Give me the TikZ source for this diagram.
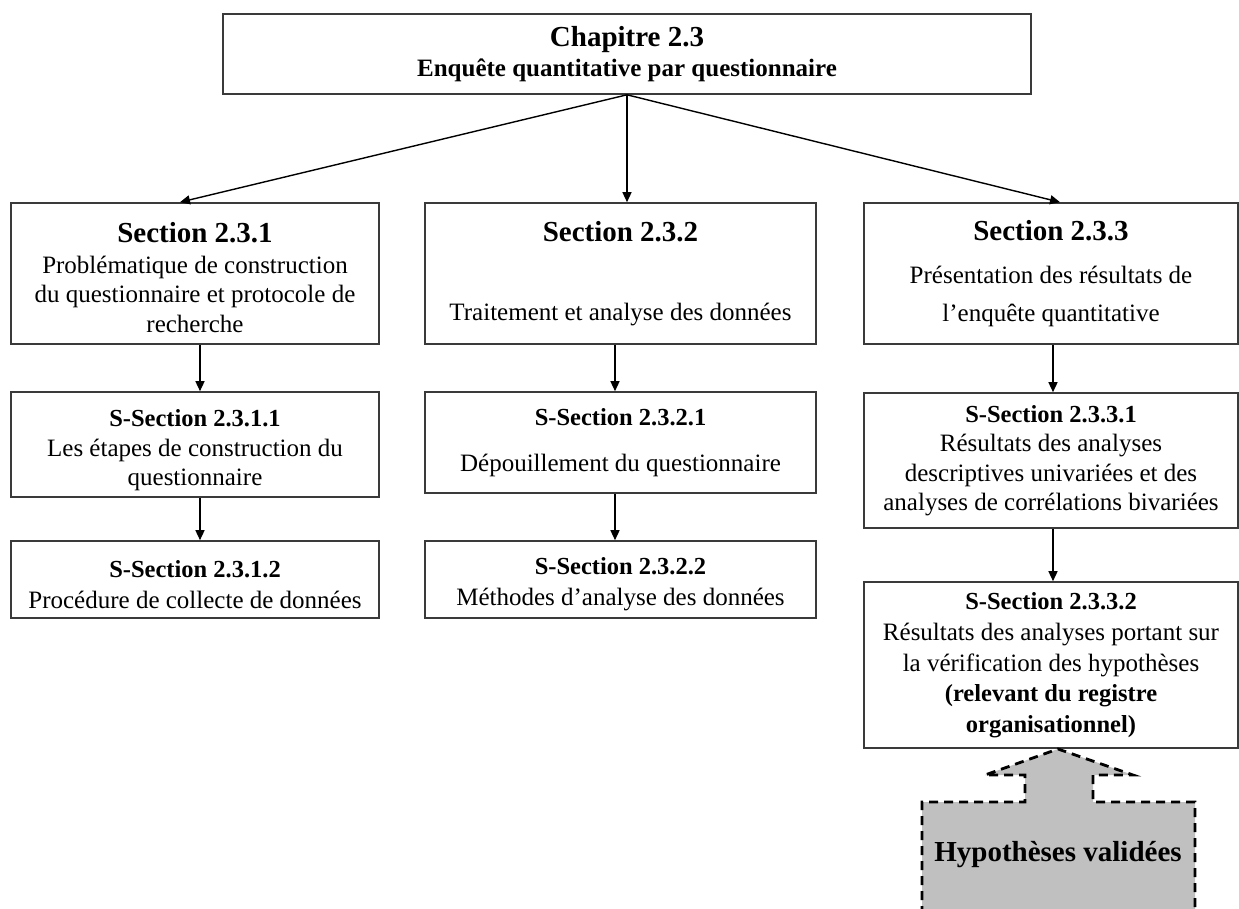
\documentclass[tikz,border=0pt]{standalone}
\usepackage{fontspec}
\setmainfont{Liberation Serif}
\usetikzlibrary{arrows.meta}
\newcommand\hdA[1]{{\bfseries\fontsize{29}{31}\selectfont #1}}
\newcommand\hdB[1]{{\bfseries\fontsize{24.5}{29}\selectfont #1}}
\newcommand\hdC[1]{{\bfseries\fontsize{25}{29}\selectfont #1}}
\newcommand\pushdown[1]{\rule{0pt}{#1pt}}
\definecolor{boxline}{HTML}{3A3A3A}
\definecolor{hypfill}{HTML}{C0C0C0}
\tikzset{
  box/.style={draw=boxline, line width=1.6pt, align=center, inner sep=0pt,
    font=\fontsize{25}{29.5}\selectfont},
  dims/.style 2 args={minimum width=#1pt, minimum height=#2pt},
  arr/.style={line width=1.4pt, draw=black, -{Triangle[length=10pt,width=9pt]}},
  hypshape/.style={fill=hypfill},
  hypline/.style={draw=black, line width=2.8pt, dash pattern=on 9pt off 6pt},
}
\begin{document}
\begin{tikzpicture}[x=1pt,y=-1pt]
\useasboundingbox (0,0) rectangle (1239,909);
\fill[white] (0,0) rectangle (1239,909);

% top
\node[box, dims={808}{80}] (chap) at (627,54)
  {\hdA{Chapitre 2.3}\\[1pt]\hdC{Enquête quantitative par questionnaire}};

% sections
\node[box, dims={368}{141}] (s1) at (195,273.5)
  {\pushdown{28}\hdA{Section 2.3.1}\\[1.5pt]Problématique de construction\\du questionnaire et protocole de\\recherche};
\node[box, dims={391}{141}] (s2) at (620.5,273.5)
  {\hdA{Section 2.3.2}\\[49.5pt]Traitement et analyse des données};
\node[box, dims={374}{141}] (s3) at (1051,273.5)
  {\hdA{Section 2.3.3}\\[14pt]Présentation des résultats de\\[8.5pt]l’enquête quantitative};

% sub-sections
\node[box, dims={368}{105}] (ss11) at (195,444.5)
  {\pushdown{29}\hdB{S-Section 2.3.1.1}\\Les étapes de construction du\\questionnaire};
\node[box, dims={368}{77}] (ss12) at (195,579.5)
  {\pushdown{27}\hdB{S-Section 2.3.1.2}\\[1.5pt]Procédure de collecte de données};
\node[box, dims={391}{101}] (ss21) at (620.5,442.5)
  {\hdB{S-Section 2.3.2.1}\\[16.5pt]Dépouillement du questionnaire};
\node[box, dims={391}{77}] (ss22) at (620.5,579.5)
  {\pushdown{27}\hdB{S-Section 2.3.2.2}\\[1.5pt]Méthodes d’analyse des données};
\node[box, dims={374}{135}] (ss31) at (1051,460.5)
  {\hdB{S-Section 2.3.3.1}\\Résultats des analyses\\descriptives univariées et des\\analyses de corrélations bivariées};
\node[box, dims={374}{166}] (ss32) at (1051,665)
  {\hdB{S-Section 2.3.3.2}\\[1.5pt]Résultats des analyses portant sur\\[1.5pt]la vérification des hypothèses\\[1pt]\hdB{(relevant du registre}\\[1pt]\hdB{organisationnel)}};

% connectors
\draw[arr] (chap.south) -- ([xshift=-15pt]s1.north);
\draw[arr] (chap.south) -- (chap.south |- s2.north);
\draw[arr] (chap.south) -- ([xshift=9pt]s3.north);

\draw[arr] ([xshift=5pt]s1.south) -- ([xshift=5pt]ss11.north);
\draw[arr] ([xshift=5pt]ss11.south) -- ([xshift=5pt]ss12.north);
\draw[arr] ([xshift=-5.5pt]s2.south) -- ([xshift=-5.5pt]ss21.north);
\draw[arr] ([xshift=-5.5pt]ss21.south) -- ([xshift=-5.5pt]ss22.north);
\draw[arr] ([xshift=2pt]s3.south) -- ([xshift=2pt]ss31.north);
\draw[arr] ([xshift=2pt]ss31.south) -- ([xshift=2pt]ss32.north);

% hypotheses block arrow
\begin{scope}
\clip (0,0) rectangle (1239,909);
\fill[hypshape] (922,930) -- (922,802) -- (1025,802) -- (1025,775) -- (985,775)
  -- (1058,749) -- (1133,775) -- (1093,775) -- (1093,802) -- (1195,802) -- (1195,930) -- cycle;
\draw[hypline] (922,930) -- (922,802) -- (1025,802) -- (1025,775) -- (985,775)
  -- (1058,749) -- (1133,775) -- (1093,775) -- (1093,802) -- (1195,802) -- (1195,930);
\end{scope}
\node[font=\bfseries\fontsize{29}{34}\selectfont, inner sep=0pt] (hyp) at (1058,855) {Hypothèses validées};
\end{tikzpicture}
\end{document}
